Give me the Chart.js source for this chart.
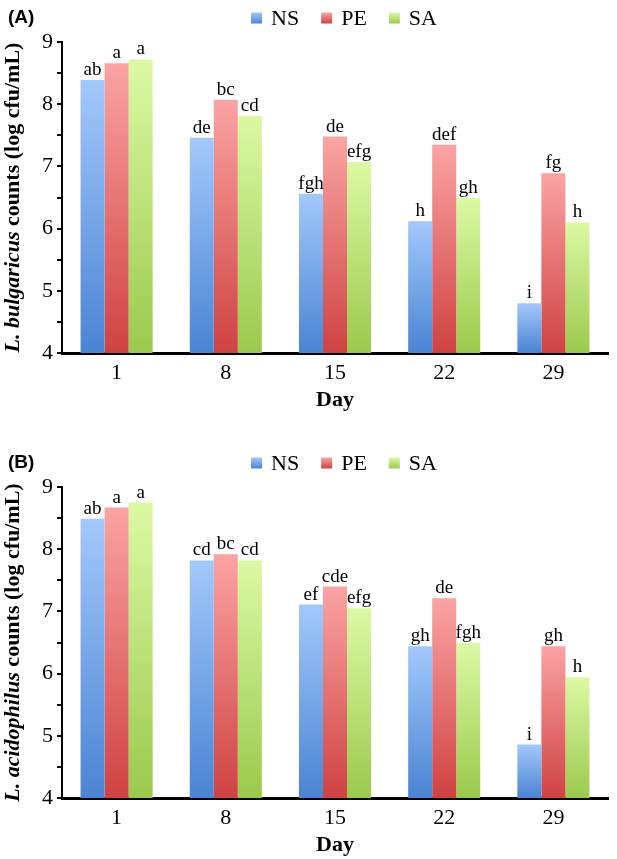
<!DOCTYPE html>
<html>
<head>
<meta charset="utf-8">
<script src="https://cdn.jsdelivr.net/npm/chart.js@4.4.1/dist/chart.umd.min.js"></script>
<style>
  html, body { margin: 0; padding: 0; background: #fff; }
  #wrap { position: relative; width: 617px; height: 859px; }
  #chartA { position: absolute; left: 0; top: 0; }
  #chartB { position: absolute; left: 0; top: 445px; }
</style>
</head>
<body>
<div id="wrap">
  <canvas id="chartA" width="617" height="445"></canvas>
  <canvas id="chartB" width="617" height="414"></canvas>
</div>
<script>
var days = ["1", "8", "15", "22", "29"];
var seriesNames = ["NS", "PE", "SA"];

// (A) L. bulgaricus
var nsA = [8.39, 7.46, 6.56, 6.12, 4.80];
var peA = [8.66, 8.07, 7.48, 7.35, 6.89];
var saA = [8.72, 7.81, 7.07, 6.49, 6.10];
var nsLettersA = ["ab", "de", "fgh", "h", "i"];
var peLettersA = ["a", "bc", "de", "def", "fg"];
var saLettersA = ["a", "cd", "efg", "gh", "h"];

// (B) L. acidophilus
var nsB = [8.49, 7.82, 7.11, 6.44, 4.86];
var peB = [8.67, 7.92, 7.40, 7.21, 6.44];
var saB = [8.75, 7.82, 7.05, 6.49, 5.94];
var nsLettersB = ["ab", "cd", "ef", "gh", "i"];
var peLettersB = ["a", "bc", "cde", "de", "gh"];
var saLettersB = ["a", "cd", "efg", "fgh", "h"];

var yMin = 4;
var yMax = 9;

var serif = "'Times New Roman', 'Liberation Serif', serif";
var shades = [
    ["#a3c8fc", "#4a84d2"],
    ["#fba3a3", "#cf4242"],
    ["#dbf9a4", "#9bc94c"]
];

function barFill(light, dark) {
    return function (context) {
        var chart = context.chart;
        if (!chart.chartArea || context.type !== "data") {
            return dark;
        }
        var y = chart.scales.y;
        var g = chart.ctx.createLinearGradient(0, y.getPixelForValue(context.raw), 0, y.getPixelForValue(yMin));
        g.addColorStop(0, light);
        g.addColorStop(1, dark);
        return g;
    };
}

// letters above bars, legend, panel tag and y title
var extrasPlugin = {
    id: "extras",
    afterDatasetsDraw: function (chart) {
        var ctx = chart.ctx;
        var letters = chart.options.plugins.extras.letters;
        ctx.save();
        ctx.fillStyle = "#000";
        ctx.font = "19px " + serif;
        ctx.textAlign = "center";
        ctx.textBaseline = "alphabetic";
        chart.data.datasets.forEach(function (ds, i) {
            var meta = chart.getDatasetMeta(i);
            meta.data.forEach(function (bar, j) {
                ctx.fillText(letters[i][j], bar.x, bar.y - 5);
            });
        });
        ctx.restore();
    },
    afterDraw: function (chart) {
        var ctx = chart.ctx;
        var opts = chart.options.plugins.extras;
        var area = chart.chartArea;
        ctx.save();

        // panel tag
        ctx.fillStyle = "#000";
        ctx.font = "bold 19px 'Liberation Sans', Arial, sans-serif";
        ctx.textAlign = "left";
        ctx.textBaseline = "middle";
        ctx.fillText(opts.tag, 8, 18);

        // legend
        ctx.font = "22px " + serif;
        var box = 11, gap = 9, itemGap = 22;
        var total = 0;
        chart.data.datasets.forEach(function (ds, i) {
            total += box + gap + ctx.measureText(ds.label).width;
            if (i > 0) total += itemGap;
        });
        var x = 344 - total / 2;
        var ly = 18;
        chart.data.datasets.forEach(function (ds, i) {
            var g = ctx.createLinearGradient(0, ly - box / 2, 0, ly + box / 2);
            g.addColorStop(0, shades[i][0]);
            g.addColorStop(1, shades[i][1]);
            ctx.fillStyle = g;
            ctx.fillRect(x, ly - box / 2, box, box);
            x += box + gap;
            ctx.fillStyle = "#000";
            ctx.fillText(ds.label, x, ly + 1);
            x += ctx.measureText(ds.label).width + itemGap;
        });

        // y axis title, genus in italic
        var cy = (area.top + area.bottom) / 2;
        ctx.translate(13, cy);
        ctx.rotate(-Math.PI / 2);
        var f1 = "italic bold 22px " + serif;
        var f2 = "bold 22px " + serif;
        ctx.font = f1;
        var w1 = ctx.measureText(opts.genus).width;
        ctx.font = f2;
        var w2 = ctx.measureText(opts.rest).width;
        var sx = -(w1 + w2) / 2;
        ctx.textAlign = "left";
        ctx.textBaseline = "middle";
        ctx.font = f1;
        ctx.fillText(opts.genus, sx, 0);
        ctx.font = f2;
        ctx.fillText(opts.rest, sx + w1, 0);
        ctx.restore();
    }
};

function makeChart(id, ns, pe, sa, letters, tag, genus, bottomPad) {
    var ctx = document.getElementById(id).getContext("2d");
    var values = [ns, pe, sa];
    var datasets = seriesNames.map(function (name, i) {
        return {
            label: name,
            data: values[i],
            backgroundColor: barFill(shades[i][0], shades[i][1]),
            borderWidth: 0,
            categoryPercentage: 0.66,
            barPercentage: 1.0
        };
    });
    return new Chart(ctx, {
        type: "bar",
        data: { labels: days, datasets: datasets },
        plugins: [extrasPlugin],
        options: {
            responsive: false,
            animation: false,
            layout: { padding: { top: 42, left: 22, right: 9, bottom: bottomPad } },
            plugins: {
                legend: { display: false },
                tooltip: { enabled: false },
                extras: { letters: letters, tag: tag, genus: genus, rest: " counts (log cfu/mL)" }
            },
            scales: {
                x: {
                    grid: { display: false, drawTicks: false },
                    border: { display: true, color: "#000", width: 3 },
                    ticks: { color: "#000", padding: 7, font: { family: serif, size: 22 } },
                    title: {
                        display: true,
                        text: "Day",
                        color: "#000",
                        padding: { top: 0, bottom: 0 },
                        font: { family: serif, size: 22, weight: "bold" }
                    },
                    afterFit: function (scale) { scale.height = 61; }
                },
                y: {
                    min: yMin,
                    max: yMax,
                    grid: { display: true, drawOnChartArea: false, drawTicks: true, tickLength: 5, color: "#000", lineWidth: 2 },
                    border: { display: true, color: "#000", width: 2 },
                    ticks: {
                        stepSize: 0.5,
                        color: "#000",
                        padding: 4,
                        font: { family: serif, size: 22 },
                        callback: function (v) { return Number.isInteger(v) ? v : ""; }
                    },
                    afterFit: function (scale) { scale.width = 40; }
                }
            }
        }
    });
}

makeChart("chartA", nsA, peA, saA, [nsLettersA, peLettersA, saLettersA], "(A)", "L. bulgaricus", 31);
makeChart("chartB", nsB, peB, saB, [nsLettersB, peLettersB, saLettersB], "(B)", "L. acidophilus", 0);
</script>
</body>
</html>
